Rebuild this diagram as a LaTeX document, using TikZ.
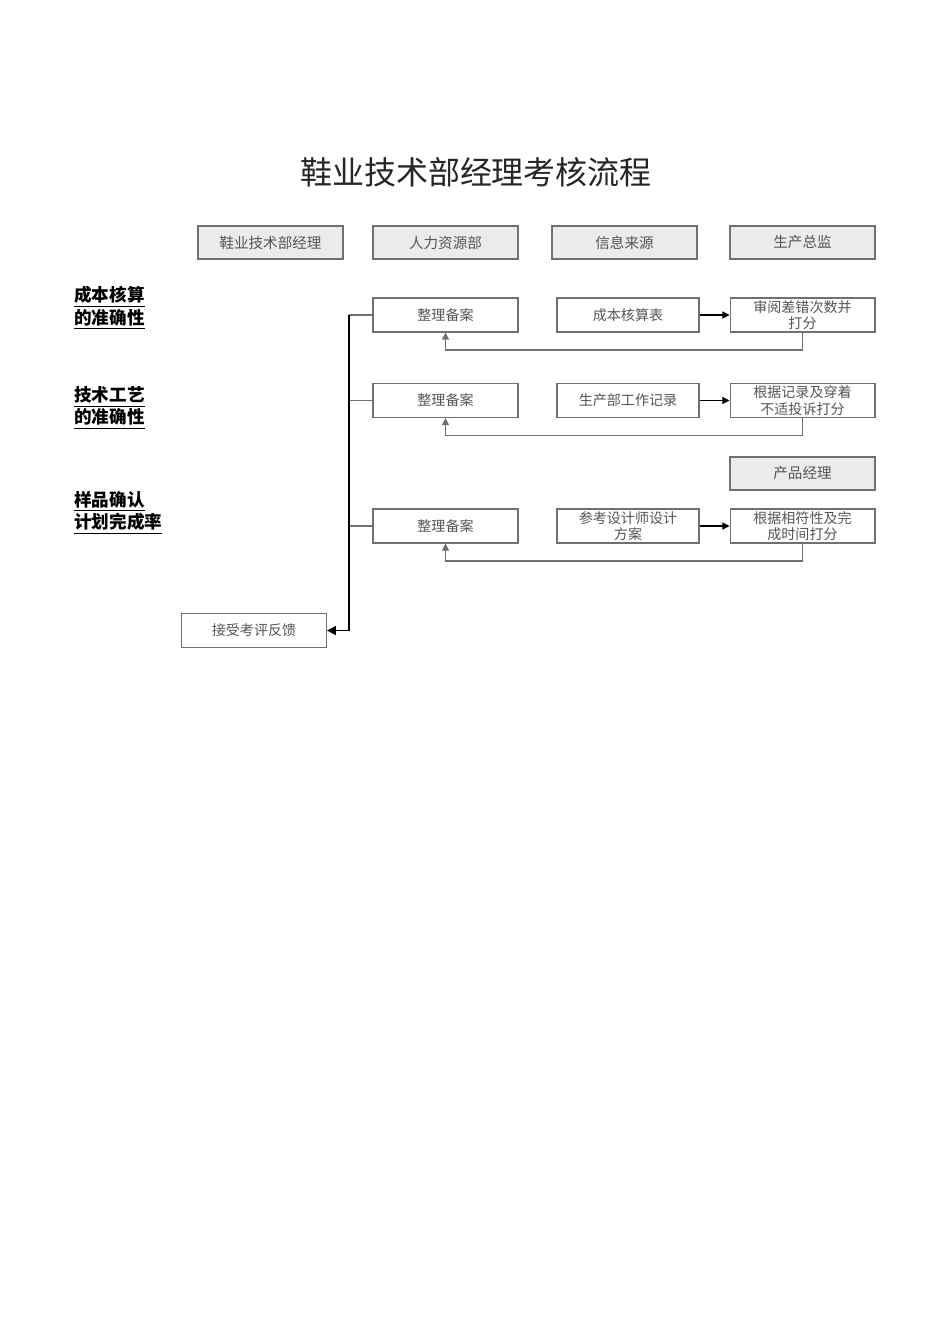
\documentclass[tikz,border=0pt]{standalone}
\usepackage{fontspec}
\setmainfont{Noto Sans CJK SC}
\usetikzlibrary{arrows.meta}
\definecolor{hdrfill}{HTML}{EBEBEB}
\definecolor{boxline}{HTML}{707070}
\definecolor{boxtext}{HTML}{555555}
\tikzset{
  hdr/.style={draw=boxline,fill=hdrfill,line width=0.8pt,text=boxtext,
    minimum width=2.9cm,minimum height=0.66cm,inner sep=0pt,font=\fontsize{8.3}{9}\selectfont},
  box/.style={draw=boxline,line width=0.6pt,text=boxtext,align=center,
    minimum width=2.9cm,minimum height=0.68cm,inner sep=0pt,font=\fontsize{8}{9.4}\selectfont},
  lbl/.style={anchor=west,align=left,inner sep=0pt,font=\bfseries\fontsize{10}{10.2}\selectfont},
  back/.style={draw=boxline,line width=0.6pt,-{Triangle[length=4pt,width=4pt]}},
  fwd/.style={draw=black,line width=0.6pt,-{Triangle[length=4pt,width=4pt]}}
}
\begin{document}
\begin{tikzpicture}[x=0.02cm,y=-0.02cm]
    \useasboundingbox (0,0) rectangle (950,1344);

    % Título
    \node[font=\fontsize{18.2}{21}\selectfont,text=black!85] (title) at (476,172) {鞋业技术部经理考核流程};

    % Encabezados
    \node[hdr] (mgr)  at (270.5,242.5) {鞋业技术部经理};
    \node[hdr] (hr)   at (445.5,242.5) {人力资源部};
    \node[hdr] (info) at (624.5,242.5) {信息来源};
    \node[hdr] (dir)  at (802.5,242.5) {生产总监};

    % Indicadores
    \node[lbl] (kpiA) at (74,308) {\underline{成本核算}\\\underline{的准确性}};
    \node[lbl] (kpiB) at (74,408) {\underline{技术工艺}\\\underline{的准确性}};
    \node[lbl] (kpiC) at (74,513) {\underline{样品确认}\\\underline{计划完成率}};

    % Fila 1
    \node[box] (fileA)  at (445.5,315) {整理备案};
    \node[box,minimum width=2.84cm] (srcA) at (628,315) {成本核算表};
    \node[box] (scoreA) at (802.5,315) {审阅差错次数并\\打分};

    % Fila 2
    \node[box] (fileB)  at (445.5,400.5) {整理备案};
    \node[box,minimum width=2.84cm] (srcB) at (628,400.5) {生产部工作记录};
    \node[box] (scoreB) at (802.5,400.5) {根据记录及穿着\\不适投诉打分};

    % Fila 3
    \node[hdr] (pm) at (802.5,473.5) {产品经理};
    \node[box] (fileC)  at (445.5,526) {整理备案};
    \node[box,minimum width=2.84cm] (srcC) at (628,526) {参考设计师设计\\方案};
    \node[box] (scoreC) at (802.5,526) {根据相符性及完\\成时间打分};

    % Retroalimentación
    \node[box] (fb) at (254,630.5) {接受考评反馈};

    % Flechas entre fuentes y puntuación
    \draw[fwd] (srcA) -- (scoreA);
    \draw[fwd] (srcB) -- (scoreB);
    \draw[fwd] (srcC) -- (scoreC);

    \draw[back] (scoreA.south) -- ++(0,17.5) -| (fileA.south);
    \draw[back] (scoreB.south) -- ++(0,17.5) -| (fileB.south);
    \draw[back] (scoreC.south) -- ++(0,17.5) -| (fileC.south);

    % Línea de archivo hacia la retroalimentación
    \coordinate (spineT) at (349,315);
    \coordinate (spineB) at (349,630.5);
    \draw[boxline,line width=0.6pt] (fileA.west) -- (spineT);
    \draw[boxline,line width=0.6pt] (fileB.west) -- (fileB.west -| spineT);
    \draw[boxline,line width=0.6pt] (fileC.west) -- (fileC.west -| spineT);
    \draw[line width=1pt,-{Triangle[length=5pt,width=5pt]}] (spineT) -- (spineB) -- (fb.east);

\end{tikzpicture}
\end{document}
